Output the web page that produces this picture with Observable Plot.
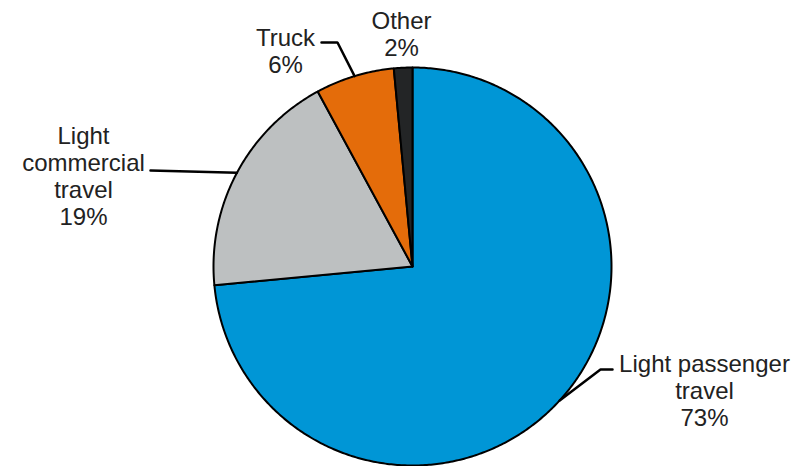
<!DOCTYPE html>
<html>
<head>
<meta charset="utf-8">
<script src="https://cdn.jsdelivr.net/npm/d3@7"></script>
<script src="https://cdn.jsdelivr.net/npm/@observablehq/plot@0.6"></script>
<style>
  html, body { margin: 0; padding: 0; background: #fff; }
  #chart svg { display: block; }
</style>
</head>
<body>
<div id="chart"></div>
<script>
// ---- Data ----
const categories = ["Light passenger travel", "Light commercial travel", "Truck", "Other"];
const shares = [73.5, 18.6, 6.4, 1.5];          // slice sizes
const pctLabels = ["73%", "19%", "6%", "2%"];   // printed labels
const labelLines = ["Light passenger\ntravel", "Light\ncommercial\ntravel", "Truck", "Other"];
const colors = ["#0096D6", "#BDC0C1", "#E46C0A", "#232526"];

// ---- Layout (pixels, converted into the pie's unit coordinates) ----
const W = 803, H = 466;
const cx = 412, cy = 266, R = 199;
const toX = px => (px - cx) / R;
const toY = py => (cy - py) / R;

// label placement: text center x, top y; leader polyline after the slice edge point
const labelLayout = [
  {x: 704, top: 352.5, leader: [[600, 369], [612, 369]]},
  {x: 83, top: 124.7, leader: [[150, 170]]},
  {x: 285, top: 26.3, leader: [[337, 42], [321, 42]]},
  {x: 401, top: 9.7, leader: null}
];

const pie = d3.pie().sort(null).value(d => d.value);
const arcs = pie(categories.map((c, i) => ({category: c, value: shares[i], i})));

function slicePolygon(a) {
  const pts = [[0, 0]];
  const n = Math.max(2, Math.ceil((a.endAngle - a.startAngle) / 0.01));
  for (let k = 0; k <= n; k++) {
    const t = a.startAngle + (a.endAngle - a.startAngle) * k / n;
    pts.push([Math.sin(t), Math.cos(t)]);
  }
  pts.push([0, 0]);
  return pts.map(([x, y]) => ({x, y, category: a.data.category}));
}

const sliceMarks = arcs.map((a, i) =>
  Plot.line(slicePolygon(a), {x: "x", y: "y", fill: colors[i], stroke: "#000", strokeWidth: 2, strokeLinejoin: "round"})
);

const leaderMarks = [];
arcs.forEach((a, i) => {
  const L = labelLayout[i];
  if (!L.leader) return;
  const mid = (a.startAngle + a.endAngle) / 2;
  const pts = [{x: Math.sin(mid), y: Math.cos(mid)}].concat(L.leader.map(([px, py]) => ({x: toX(px), y: toY(py)})));
  leaderMarks.push(Plot.line(pts, {x: "x", y: "y", stroke: "#000", strokeWidth: 2.5, strokeLinejoin: "miter"}));
});

const labels = arcs.map((a, i) => ({
  text: labelLines[i] + "\n" + pctLabels[i],
  x: toX(labelLayout[i].x),
  y: toY(labelLayout[i].top)
}));

const chart = Plot.plot({
  width: W,
  height: H,
  marginLeft: cx - R,
  marginRight: W - (cx + R),
  marginTop: cy - R,
  marginBottom: H - (cy + R),
  x: {domain: [-1, 1], axis: null},
  y: {domain: [-1, 1], axis: null},
  style: {fontFamily: "'Liberation Sans', Arial, sans-serif", background: "#fff", overflow: "visible"},
  marks: [
    ...sliceMarks,
    ...leaderMarks,
    Plot.text(labels, {x: "x", y: "y", text: "text", textAnchor: "middle", lineAnchor: "top",
      lineHeight: 1.125, fontSize: 24, fill: "#222"})
  ]
});
document.getElementById("chart").appendChild(chart);
</script>
</body>
</html>
